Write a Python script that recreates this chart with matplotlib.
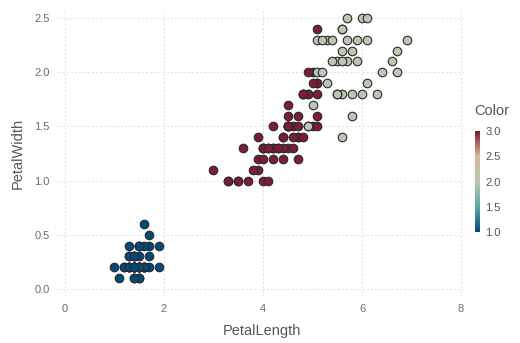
import numpy as np
import matplotlib
matplotlib.use("Agg")
import matplotlib.pyplot as plt
from matplotlib.colors import LinearSegmentedColormap, Normalize
from matplotlib.colorbar import ColorbarBase

plt.rcParams["font.family"] = ["Liberation Sans", "DejaVu Sans"]

# iris petal measurements
petal_length = [
    1.4, 1.4, 1.3, 1.5, 1.4, 1.7, 1.4, 1.5, 1.4, 1.5, 1.5, 1.6, 1.4, 1.1, 1.2, 1.5, 1.3, 1.4, 1.7, 1.5,
    1.7, 1.5, 1.0, 1.7, 1.9, 1.6, 1.6, 1.5, 1.4, 1.6, 1.6, 1.5, 1.5, 1.4, 1.5, 1.2, 1.3, 1.4, 1.3, 1.5,
    1.3, 1.3, 1.3, 1.6, 1.9, 1.4, 1.6, 1.4, 1.5, 1.4,
    4.7, 4.5, 4.9, 4.0, 4.6, 4.5, 4.7, 3.3, 4.6, 3.9, 3.5, 4.2, 4.0, 4.7, 3.6, 4.4, 4.5, 4.1, 4.5, 3.9,
    4.8, 4.0, 4.9, 4.7, 4.3, 4.4, 4.8, 5.0, 4.5, 3.5, 3.8, 3.7, 3.9, 5.1, 4.5, 4.5, 4.7, 4.4, 4.1, 4.0,
    4.4, 4.6, 4.0, 3.3, 4.2, 4.2, 4.2, 4.3, 3.0, 4.1,
    6.0, 5.1, 5.9, 5.6, 5.8, 6.6, 4.5, 6.3, 5.8, 6.1, 5.1, 5.3, 5.5, 5.0, 5.1, 5.3, 5.5, 6.7, 6.9, 5.0,
    5.7, 4.9, 6.7, 4.9, 5.7, 6.0, 4.8, 4.9, 5.6, 5.8, 6.1, 6.4, 5.6, 5.1, 5.6, 6.1, 5.6, 5.5, 4.8, 5.4,
    5.6, 5.1, 5.1, 5.9, 5.7, 5.2, 5.0, 5.2, 5.4, 5.1,
]
petal_width = [
    0.2, 0.2, 0.2, 0.2, 0.2, 0.4, 0.3, 0.2, 0.2, 0.1, 0.2, 0.2, 0.1, 0.1, 0.2, 0.4, 0.4, 0.3, 0.3, 0.3,
    0.2, 0.4, 0.2, 0.5, 0.2, 0.2, 0.4, 0.2, 0.2, 0.2, 0.2, 0.4, 0.1, 0.2, 0.2, 0.2, 0.2, 0.1, 0.2, 0.2,
    0.3, 0.3, 0.2, 0.6, 0.4, 0.3, 0.2, 0.2, 0.2, 0.2,
    1.4, 1.5, 1.5, 1.3, 1.5, 1.3, 1.6, 1.0, 1.3, 1.4, 1.0, 1.5, 1.0, 1.4, 1.3, 1.4, 1.5, 1.0, 1.5, 1.1,
    1.8, 1.3, 1.5, 1.2, 1.3, 1.4, 1.4, 1.7, 1.5, 1.0, 1.1, 1.0, 1.2, 1.6, 1.5, 1.6, 1.5, 1.3, 1.3, 1.3,
    1.2, 1.4, 1.2, 1.0, 1.3, 1.2, 1.3, 1.3, 1.1, 1.3,
    2.5, 1.9, 2.1, 1.8, 2.2, 2.1, 1.7, 1.8, 1.8, 2.5, 2.0, 1.9, 2.1, 2.0, 2.4, 2.3, 1.8, 2.2, 2.3, 1.5,
    2.3, 2.0, 2.0, 1.8, 2.1, 1.8, 1.8, 1.8, 2.1, 1.6, 1.9, 2.0, 2.2, 1.5, 1.4, 2.3, 2.4, 1.8, 1.8, 2.1,
    2.4, 2.3, 1.9, 2.3, 2.5, 2.3, 1.9, 2.0, 2.3, 1.8,
]
# k-means cluster label shown as colour
cluster = (
    [1] * 50
    + [3, 3, 2, 3, 3, 3, 3, 3, 3, 3, 3, 3, 3, 3, 3, 3, 3, 3, 3, 3,
       3, 3, 3, 3, 3, 3, 3, 2, 3, 3, 3, 3, 3, 3, 3, 3, 3, 3, 3, 3,
       3, 3, 3, 3, 3, 3, 3, 3, 3, 3]
    + [2, 3, 2, 2, 2, 2, 3, 2, 2, 2, 2, 2, 2, 3, 3, 2, 2, 2, 2, 3,
       2, 3, 2, 3, 2, 2, 3, 3, 2, 2, 2, 2, 2, 3, 2, 2, 2, 2, 3, 2,
       2, 2, 3, 2, 2, 2, 3, 2, 2, 3]
)

cmap = LinearSegmentedColormap.from_list(
    "kmeans", ["#024a7c", "#5ea6ab", "#b9c7b3", "#d8b797", "#7a1d35"])
norm = Normalize(1.0, 3.0)

x = np.array(petal_length)
y = np.array(petal_width)
c = np.array(cluster)

fig = plt.figure(figsize=(5.2, 3.43), dpi=100)
ax = fig.add_axes([58 / 520, 1 - 296 / 343, 408 / 520, 286 / 343])

for k in [1, 3, 2]:
    m = c == k
    ax.scatter(x[m], y[m], s=38, color=cmap(norm(k)), edgecolors="#2a2a2a",
               linewidths=0.8, zorder=3)

ax.set_xlim(-0.14, 8.1)
ax.set_ylim(-0.065, 2.574)
ax.set_xticks([0, 2, 4, 6, 8])
ax.set_yticks([0.0, 0.5, 1.0, 1.5, 2.0, 2.5])
ax.set_yticklabels(["0.0", "0.5", "1.0", "1.5", "2.0", "2.5"])
ax.grid(True, color="#dfdfec", linestyle=(0, (2, 2)), linewidth=0.75)
ax.tick_params(length=0, labelsize=8, colors="#6c6c6c", pad=6)
for s in ax.spines.values():
    s.set_visible(False)
ax.set_xlabel("PetalLength", fontsize=10.5, color="#565656", labelpad=7)
ax.set_ylabel("PetalWidth", fontsize=10.5, color="#565656", labelpad=7)

cax = fig.add_axes([475 / 520, 1 - 232 / 343, 5 / 520, 101 / 343])
cb = ColorbarBase(cax, cmap=cmap, norm=norm, ticks=[1.0, 1.5, 2.0, 2.5, 3.0])
cb.outline.set_visible(False)
cb.ax.set_yticklabels(["1.0", "1.5", "2.0", "2.5", "3.0"])
cb.ax.tick_params(length=0, labelsize=8, colors="#565656", pad=4)
fig.text(474 / 520, 1 - 111 / 343, "Color", fontsize=10.5, color="#565656",
         va="center", ha="left")

fig.savefig("out.png", dpi=100)
